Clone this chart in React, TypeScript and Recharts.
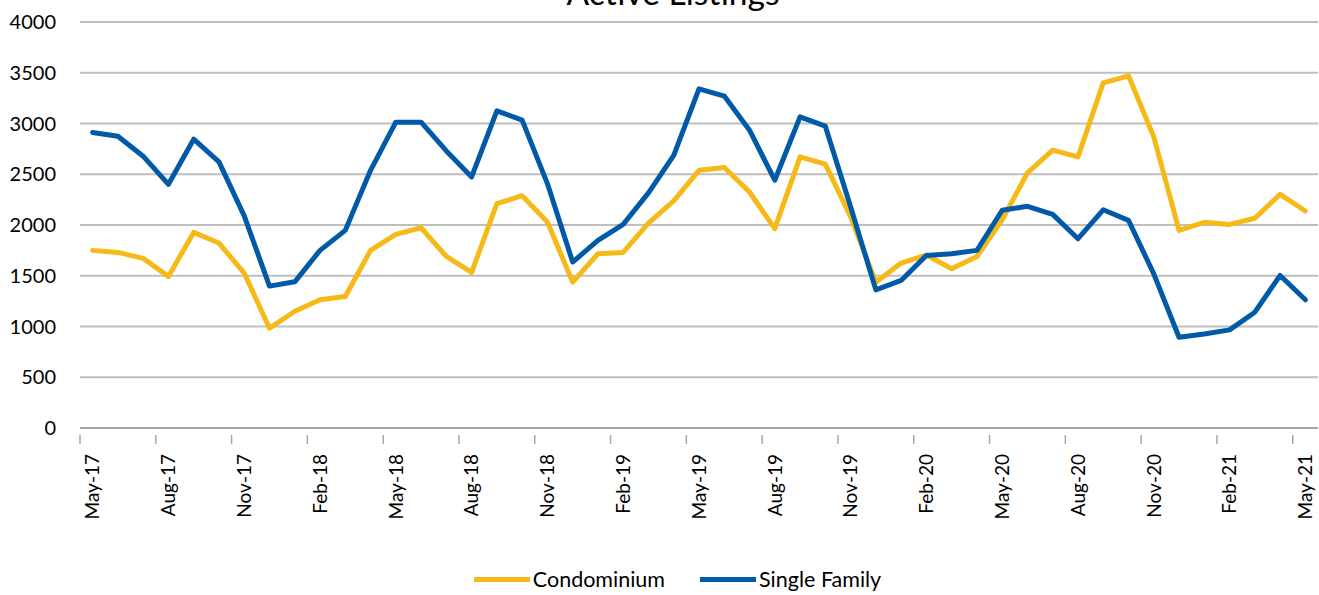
import {
	CartesianGrid,
	Legend,
	Line,
	LineChart,
	XAxis,
	YAxis,
} from "recharts";

const months = [
	"May-17", "Jun-17", "Jul-17", "Aug-17", "Sep-17", "Oct-17", "Nov-17", "Dec-17",
	"Jan-18", "Feb-18", "Mar-18", "Apr-18", "May-18", "Jun-18", "Jul-18", "Aug-18",
	"Sep-18", "Oct-18", "Nov-18", "Dec-18", "Jan-19", "Feb-19", "Mar-19", "Apr-19",
	"May-19", "Jun-19", "Jul-19", "Aug-19", "Sep-19", "Oct-19", "Nov-19", "Dec-19",
	"Jan-20", "Feb-20", "Mar-20", "Apr-20", "May-20", "Jun-20", "Jul-20", "Aug-20",
	"Sep-20", "Oct-20", "Nov-20", "Dec-20", "Jan-21", "Feb-21", "Mar-21", "Apr-21",
	"May-21",
];

const condominium = [
	1750, 1730, 1671, 1493, 1927, 1822, 1525, 983,
	1150, 1263, 1296, 1750, 1908, 1973, 1690, 1533,
	2210, 2289, 2029, 1437, 1717, 1730, 2019, 2237,
	2539, 2566, 2325, 1964, 2671, 2599, 2080, 1437,
	1625, 1704, 1569, 1690, 2052, 2513, 2737, 2671,
	3401, 3470, 2868, 1947, 2026, 2006, 2066, 2302,
	2138,
];

const singleFamily = [
	2911, 2875, 2678, 2401, 2845, 2622, 2090, 1398,
	1440, 1750, 1947, 2539, 3013, 3013, 2730, 2474,
	3125, 3033, 2408, 1635, 1849, 2006, 2316, 2687,
	3342, 3270, 2934, 2441, 3066, 2974, 2180, 1361,
	1454, 1700, 1717, 1750, 2145, 2184, 2105, 1865,
	2150, 2046, 1519, 894, 927, 967, 1141, 1503,
	1263,
];

// every third month gets a label
const tickIndexes = [0, 3, 6, 9, 12, 15, 18, 21, 24, 27, 30, 33, 36, 39, 42, 45, 48];
const yTicks = [0, 500, 1000, 1500, 2000, 2500, 3000, 3500, 4000];

const series = [
	{ key: "condo", name: "Condominium", color: "#F5B918" },
	{ key: "single", name: "Single Family", color: "#005AA7" },
];

const data = months.map((month, i) => ({
	idx: i,
	month,
	condo: condominium[i],
	single: singleFamily[i],
}));

const FONT = "Lato, 'Noto Sans', sans-serif";
const PLOT_WIDTH = 1238;

// label sits on the month, tick mark sits on the boundary half a month to the left
function MonthTick(props: any) {
	const { x, y, payload } = props;
	const half = PLOT_WIDTH / months.length / 2;
	return (
		<g>
			<line x1={x - half} x2={x - half} y1={y - 1} y2={y + 8} stroke="#a6a6a6" strokeWidth={1.5} />
			<text
				x={x}
				y={y + 18}
				transform={`rotate(-90, ${x}, ${y + 18})`}
				textAnchor="end"
				dy="0.36em"
				fontSize={19}
				fontFamily={FONT}
				fill="#000"
			>
				{months[payload.value]}
			</text>
		</g>
	);
}

function LegendBox() {
	return (
		<div
			style={{
				display: "flex",
				justifyContent: "center",
				alignItems: "center",
				height: 30,
				paddingLeft: 36,
				fontFamily: FONT,
				fontSize: 21.5,
				color: "#000",
			}}
		>
			{series.map((s, i) => (
				<div
					key={s.key}
					style={{ display: "flex", alignItems: "center", marginRight: i < series.length - 1 ? 35 : 0 }}
				>
					<div style={{ width: 56, height: 5, background: s.color, marginRight: 3 }} />
					<span>{s.name}</span>
				</div>
			))}
		</div>
	);
}

export default function App() {
	return (
		<div style={{ position: "absolute", left: 0, top: 0, width: 1319, height: 595, background: "#fff" }}>
			<svg width={1319} height={40} style={{ position: "absolute", left: 0, top: 0, zIndex: 2 }}>
				<text x={673} y={5} textAnchor="middle" fontSize={33.5} fontFamily={FONT} fill="#000">
					Active Listings
				</text>
			</svg>
			<LineChart
				width={1319}
				height={595}
				data={data}
				margin={{ top: 22, right: 1, left: 0, bottom: 37 }}
			>
				<CartesianGrid horizontal vertical={false} stroke="#bfbfbf" strokeWidth={2} />
				<XAxis
					dataKey="idx"
					type="number"
					domain={[-0.5, 48.5]}
					ticks={tickIndexes}
					interval={0}
					height={100}
					tickLine={false}
					axisLine={{ stroke: "#a6a6a6", strokeWidth: 2 }}
					tick={<MonthTick />}
					allowDataOverflow
				/>
				<YAxis
					domain={[0, 4000]}
					ticks={yTicks}
					width={80}
					tickLine={false}
					axisLine={false}
					tickSize={0}
					tickMargin={24}
					tick={{ fontSize: 20, fontFamily: FONT, fill: "#000" }}
				/>
				<Legend
					verticalAlign="bottom"
					content={<LegendBox />}
					wrapperStyle={{ top: 564, left: 0, width: 1319 }}
				/>
				{series.map((s) => (
					<Line
						key={s.key}
						type="linear"
						dataKey={s.key}
						name={s.name}
						stroke={s.color}
						strokeWidth={5}
						strokeLinejoin="round"
						strokeLinecap="round"
						dot={false}
						activeDot={false}
						isAnimationActive={false}
					/>
				))}
			</LineChart>
		</div>
	);
}
